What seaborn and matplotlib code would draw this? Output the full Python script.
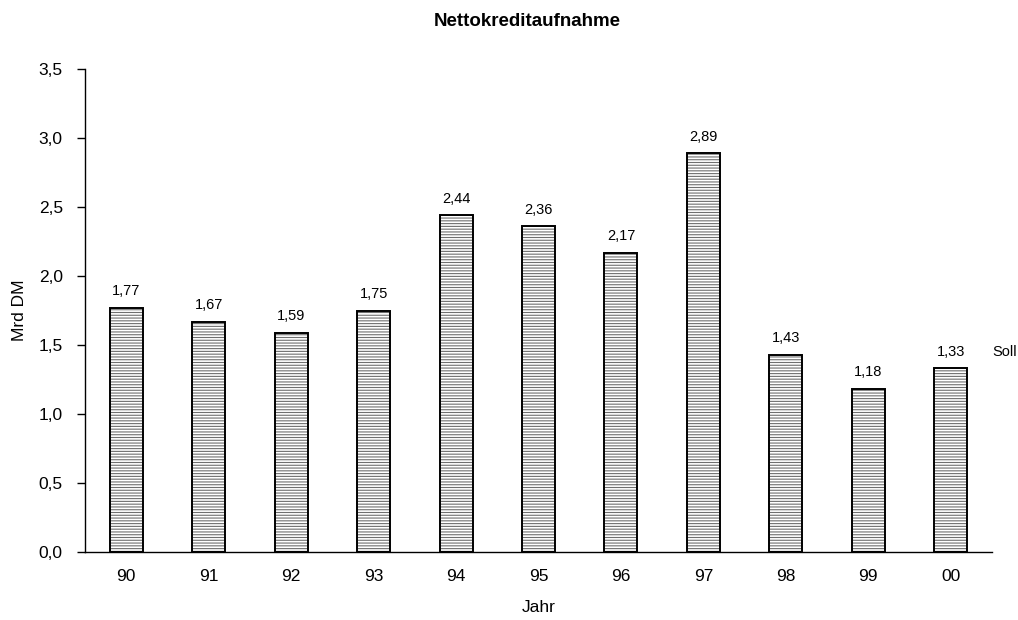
import matplotlib
matplotlib.use("Agg")
import matplotlib.pyplot as plt
import seaborn as sns
import pandas as pd

years = ["90", "91", "92", "93", "94", "95", "96", "97", "98", "99", "00"]
values = [1.77, 1.67, 1.59, 1.75, 2.44, 2.36, 2.17, 2.89, 1.43, 1.18, 1.33]
y_ticks = [0.0, 0.5, 1.0, 1.5, 2.0, 2.5, 3.0, 3.5]

sns.set_theme(style="white")
plt.rcParams["font.family"] = ["Liberation Sans", "DejaVu Sans"]
plt.rcParams["hatch.linewidth"] = 0.8
plt.rcParams["text.color"] = "black"
plt.rcParams["axes.labelcolor"] = "black"
plt.rcParams["xtick.color"] = "black"
plt.rcParams["ytick.color"] = "black"

df = pd.DataFrame({"Jahr": years, "Wert": values})

fig = plt.figure(figsize=(10.18, 6.2), dpi=100)
ax = fig.add_axes([85 / 1018, (620 - 552) / 620, (992 - 85) / 1018, (552 - 69) / 620])

# hatched fill in gray, then the black outline on top
sns.barplot(data=df, x="Jahr", y="Wert", color="white", width=0.4,
            edgecolor="#8a8a8a", linewidth=0, ax=ax)
for p in ax.patches:
    p.set_hatch("------")
    p.set_edgecolor("#6f6f6f")
sns.barplot(data=df, x="Jahr", y="Wert", color="none", width=0.4,
            edgecolor="black", linewidth=1.4, fill=False, ax=ax)

for i, v in enumerate(values):
    ax.text(i, v + 0.07, f"{v:.2f}".replace(".", ","), ha="center", va="bottom",
            fontsize=10.5, color="black")
ax.text(len(years) - 1 + 0.5, values[-1] + 0.07, "Soll", ha="left", va="bottom",
        fontsize=10.5, color="black")

ax.set_xlim(-0.5, len(years) - 0.5)
ax.set_ylim(0, 3.5)
ax.set_yticks(y_ticks)
ax.set_yticklabels([f"{t:.1f}".replace(".", ",") for t in y_ticks], fontsize=12.5)
ax.set_xticks(range(len(years)))
ax.set_xticklabels(years, fontsize=12.5)
ax.set_xticks([i + 0.5 for i in range(-1, len(years))], minor=True)
ax.tick_params(axis="x", which="major", length=0, pad=12)
ax.tick_params(axis="x", which="minor", length=6, width=1, color="black", direction="out")
ax.tick_params(axis="y", length=6, width=1, color="black", direction="out", pad=10, left=True)

for s in ["top", "right"]:
    ax.spines[s].set_visible(False)
for s in ["left", "bottom"]:
    ax.spines[s].set_color("black")
    ax.spines[s].set_linewidth(1)

ax.set_xlabel("Jahr", fontsize=12.5, labelpad=12)
ax.set_ylabel("Mrd DM", fontsize=12.5, labelpad=8)
fig.text(527 / 1018, 1 - 22 / 620, "Nettokreditaufnahme", ha="center", va="center",
         fontsize=13.5, fontweight="bold")

fig.savefig("out.png", dpi=100, facecolor="white")
